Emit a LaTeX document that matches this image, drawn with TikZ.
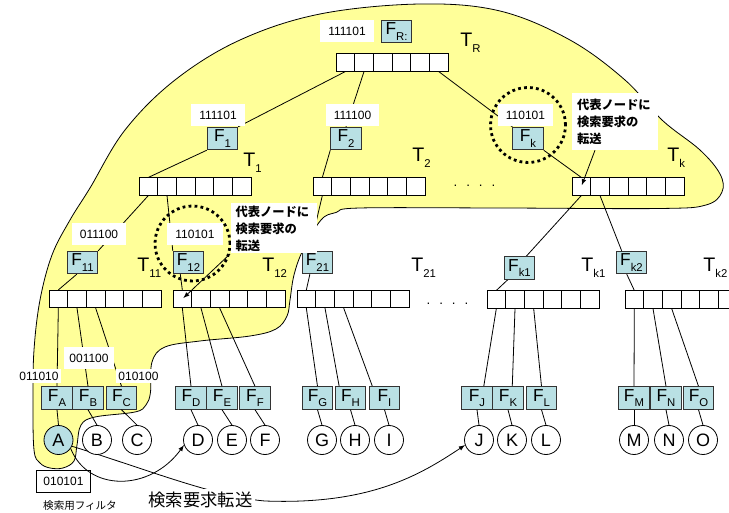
\documentclass[tikz,border=0pt]{standalone}
\usepackage{fontspec}
\setmainfont{Liberation Sans}
\newfontfamily\jp{Noto Sans CJK JP}
\usetikzlibrary{calc}

\pgfdeclarelayer{blob}
\pgfdeclarelayer{edges}
\pgfsetlayers{blob,edges,main}

\definecolor{filterblue}{RGB}{185,224,228}
\definecolor{groupyellow}{RGB}{255,255,153}

\newcommand{\sub}[1]{\raisebox{-4pt}{\fontsize{8.5}{9}\selectfont #1}}
% one routing table: name, left x, centre y
\newcommand{\cellrow}[3]{%
  \foreach \i in {1,...,6}
    \node[cell] (#1-\i) at ({#2+18.67*(\i-0.5)}, #3) {};
}

\tikzset{
  cell/.style={draw, fill=white, minimum width=14pt, minimum height=13pt, inner sep=0pt},
  fbox/.style={draw=black!80, fill=filterblue, minimum width=23pt, minimum height=17pt, inner sep=0pt, font=\fontsize{13}{13}\selectfont},
  peer/.style={draw, circle, minimum size=21.75pt, inner sep=0pt, font=\fontsize{13.5}{14}\selectfont},
  bits/.style={fill=white, inner xsep=6pt, inner ysep=0pt, minimum height=16.5pt, font=\fontsize{9}{9}\selectfont},
  tname/.style={anchor=base west, inner sep=0pt, font=\fontsize{14.7}{15}\selectfont},
  notebox/.style={fill=white, text width=57pt, inner xsep=3.75pt, inner ysep=1pt, minimum height=42.5pt, align=left, font=\jp\bfseries\fontsize{9.2}{12.75}\selectfont},
  ring/.style={line width=2.1pt, dash pattern=on 2.1pt off 2.4pt},
  every path/.style={line width=0.6pt}
}

\begin{document}
\begin{tikzpicture}[x=0.75pt,y=-0.75pt]
\useasboundingbox (0,0) rectangle (729,513);

% the group of nodes reached by the query
\begin{pgfonlayer}{blob}
\filldraw[fill=groupyellow] plot[smooth cycle, tension=0.6] coordinates {
  (420,4) (500,11) (570,40) (625,80) (662,120) (700,150) (720,174) (722,192)
  (706,205) (660,208.5) (500,208) (360,208) (336,212.5) (321,220) (303,250)
  (294,275) (290,300) (287,316) (276,329) (250,336) (200,341) (165,347)
  (152,362) (150.5,392) (146,405) (135,412) (95,417) (81,425) (77,445)
  (74,461) (63,468) (50,468) (40,463) (34,450) (33,400) (34,350) (40,300)
  (52,255) (70,220) (90,188) (125,130) (175,80) (240,40) (320,14)};
\end{pgfonlayer}

% tables
\cellrow{TR}{336}{62.5}
\cellrow{T1}{139}{186.5}
\cellrow{T2}{313}{186.5}
\cellrow{Tk}{572}{186.5}
\cellrow{T11}{49}{299}
\cellrow{T12}{173}{299}
\cellrow{T21}{297}{299}
\cellrow{Tk1}{487}{299.5}
\cellrow{Tk2}{625}{299.5}

% root
\node[bits] (bR) at (347,31) {111101};
\node[fbox] (FR) at (396.5,31.5) {F\sub{R:}};
\node[tname] at (460,47) {T\sub{R}};

% first level
\node[bits] (b1) at (218,115) {111101};
\node[fbox] (F1) at (222.5,138.5) {F\sub{1}};
\node[tname] at (243,167) {T\sub{1}};
\node[bits] (b2) at (352.5,115) {111100};
\node[fbox] (F2) at (346,138.5) {F\sub{2}};
\node[tname] at (412,162) {T\sub{2}};
\node[bits] (bk) at (525.5,115) {110101};
\node[fbox] (Fk) at (528,138.5) {F\sub{k}};
\node[tname] at (667,162) {T\sub{k}};
\node[font=\fontsize{10}{10}\selectfont] (dots1) at (474.5,186) {.\hspace{6.7pt}.\hspace{6.7pt}.\hspace{6.7pt}.};

% second level
\node[bits] (b11) at (99,234) {011100};
\node[fbox] (F11) at (82.5,262.5) {F\sub{11}};
\node[tname] at (137,272) {T\sub{11}};
\node[bits] (b12) at (195,234) {110101};
\node[fbox] (F12) at (188.5,262.5) {F\sub{12}};
\node[tname] at (262,272) {T\sub{12}};
\node[fbox] (F21) at (317.5,262.5) {F\sub{21}};
\node[tname] at (411,272) {T\sub{21}};
\node[fbox] (Fk1) at (519.5,268) {F\sub{k1}};
\node[tname] at (581,272) {T\sub{k1}};
\node[fbox] (Fk2) at (631.5,262.5) {F\sub{k2}};
\node[tname] at (703,272) {T\sub{k2}};
\node[font=\fontsize{10}{10}\selectfont] (dots2) at (447.5,304) {.\hspace{6.7pt}.\hspace{6.7pt}.\hspace{6.7pt}.};

% leaves
\foreach \n/\fx/\cx/\col in {A/57/58.5/filterblue, B/88/97/white, C/121.5/137/white,
    D/191/198/white, E/222/232/white, F/255/265/white,
    G/317.5/322/white, H/350.5/355/white, I/384.5/389/white,
    J/477/479/white, K/508/512/white, L/541.5/546/white,
    M/634/634/white, N/666/669/white, O/698.5/703/white} {
  \node[fbox] (f\n) at (\fx,398) {F\sub{\n}};
  \node[peer, fill=\col] (\n) at (\cx,440) {\n};
  \draw (f\n.south) -- (\n.north);
}
\node[bits, inner xsep=1.5pt, minimum height=11pt] (bA) at (39,376) {011010};
\node[bits, inner xsep=4pt] (bB) at (89,358) {001100};
\node[bits, inner xsep=1.5pt, minimum height=11pt] (bC) at (138.5,376) {010100};

% query
\node[draw, fill=white, minimum width=41pt, minimum height=17pt, font=\fontsize{9}{9}\selectfont] (query) at (63.5,481.5) {010101};
\node[font=\jp\fontsize{7.9}{8}\selectfont] (qname) at (80,506) {検索用フィルタ};
\node[fill=white, inner sep=1.5pt, font=\jp\fontsize{13}{13}\selectfont] (fwd) at (200.5,499.5) {検索要求転送};

% tree links
\begin{pgfonlayer}{edges}
\draw (TR-1.south) -- (F1.north east);
\draw (TR-2.south) -- (F2.north);
\draw (TR-6.south) -- (Fk.north west);
\draw (F1.south west) -- (T1-1.north);
\draw (F2.south west) -- (T2-1.north);
\draw (Fk.south east) -- (Tk-1.north);
\draw (T1-1.south) -- (F11.north east);
\draw (T1-2.south) -- (F12.north west);
\draw (T2-1.south) -- (F21.125);
\draw (Tk-1.south) -- (Fk1.60);
\draw (Tk-2.south) -- (Fk2.130);
\draw (F11.244) -- (T11-1.north);
\draw (F12.235) -- (T12-1.north);
\draw (F21.237) -- (T21-1.north);
\draw (Fk1.225) -- (Tk1-1.north);
\draw (Fk2.248) -- (Tk2-1.north);
\foreach \s/\t in {T11-1/fA.north, T11-2/fB.north, T11-3/fC.north,
    T12-1/fD.north, T12-2/fE.north, T12-3/fF.north,
    T21-1/fG.north, T21-2/fH.134, T21-3/fI.136,
    Tk1-1/fJ.60, Tk1-2/fK.70, Tk1-3/fL.north,
    Tk2-1/fM.north, Tk2-2/fN.north, Tk2-3/fO.north}
  \draw (\s.south) -- (\t);
\draw[-latex] (A.-25) .. controls (140,467) and (215,497) .. (265,501)
  .. controls (370,505) and (420,475) .. (J.200);
\end{pgfonlayer}
\draw[-latex] (A.-35) .. controls (88,492) and (150,492) .. (D.200);

% representatives
\draw[ring] (528,125) circle (28.1pt);
\draw[ring] (192.5,243.5) circle (28.1pt);
\node[notebox] (noteK) at (615,121.5) {代表ノードに\\検索要求の\\転送};
\node[notebox, minimum height=37.5pt] (note12) at (273.5,228.5) {代表ノードに\\検索要求の\\転送};
\draw[-latex, shorten >=1pt] ([xshift=-15pt]noteK.south) -- (Tk-1.center);
\draw[-latex, shorten >=1pt] (note12.south west) -- (T12-1.center);
\end{tikzpicture}
\end{document}
